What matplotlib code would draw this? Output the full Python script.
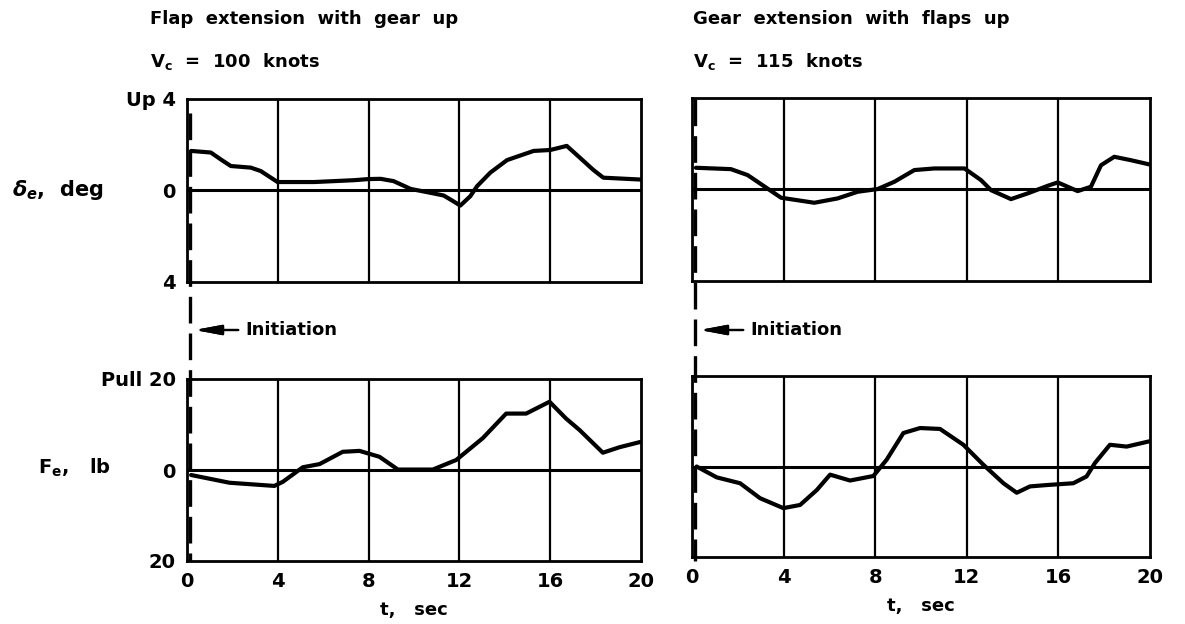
import matplotlib
matplotlib.use("Agg")
import matplotlib.pyplot as plt
from matplotlib import transforms
from matplotlib.lines import Line2D

plt.rcParams["font.family"] = "DejaVu Sans"
plt.rcParams["font.weight"] = "bold"
plt.rcParams["axes.labelweight"] = "bold"
plt.rcParams["mathtext.default"] = "regular"

# -----------------------------------
# DATA
# -----------------------------------

# Flap extension, gear up - elevator deflection (deg)
t_flap_de = [0.18, 1.05, 1.5, 1.93, 2.81, 3.25, 3.99, 5.6, 7.35, 8.0, 8.53, 9.1,
             9.85, 10.87, 11.31, 11.7, 12.04, 12.48, 12.78, 13.36, 14.1, 15.27,
             16.0, 16.73, 17.3, 17.9, 18.34, 19.96]
de_flap = [1.73, 1.66, 1.35, 1.07, 1.0, 0.85, 0.37, 0.37, 0.45, 0.5, 0.51, 0.41,
           0.07, -0.13, -0.22, -0.45, -0.66, -0.25, 0.19, 0.78, 1.33, 1.73,
           1.77, 1.95, 1.44, 0.9, 0.56, 0.48]

# Gear extension, flaps up - elevator deflection (deg)
t_gear_de = [0.17, 1.7, 2.43, 3.3, 3.89, 5.34, 6.36, 7.23, 8.11, 8.84, 9.71,
             10.58, 11.9, 12.62, 13.06, 13.93, 14.66, 15.53, 15.97, 16.84,
             17.42, 17.86, 18.44, 19.17, 20.0]
de_gear = [0.95, 0.89, 0.63, 0.04, -0.36, -0.58, -0.39, -0.1, 0.02, 0.34, 0.85,
           0.92, 0.92, 0.41, -0.03, -0.42, -0.17, 0.16, 0.31, -0.07,
           0.12, 1.06, 1.43, 1.28, 1.09]

# Flap extension, gear up - stick force (lb)
t_flap_fe = [0.18, 1.87, 3.85, 4.22, 5.1, 5.84, 6.86, 7.6, 8.48, 9.29, 10.83,
             11.86, 13.03, 14.06, 14.94, 15.97, 16.7, 17.29, 18.32, 19.05, 20.0]
fe_flap = [-1.1, -2.8, -3.5, -2.6, 0.6, 1.3, 4.0, 4.2, 2.9, 0.1, 0.1,
           2.2, 7.0, 12.4, 12.4, 15.0, 11.3, 8.8, 3.8, 5.0, 6.2]

# Gear extension, flaps up - stick force (lb)
t_gear_fe = [0.2, 1.08, 2.1, 2.97, 3.99, 4.72, 5.45, 6.03, 6.9, 7.92, 8.5,
             9.23, 9.96, 10.83, 11.85, 12.72, 13.6, 14.18, 14.76, 15.49,
             16.65, 17.23, 17.6, 18.25, 18.98, 20.0]
fe_gear = [0.0, -2.4, -3.7, -7.0, -9.2, -8.5, -5.2, -1.8, -3.1, -2.1, 1.5,
           7.4, 8.5, 8.3, 4.8, 0.4, -3.7, -5.8, -4.4, -4.1,
           -3.7, -2.2, 0.8, 4.8, 4.4, 5.6]

x_ticks = [0, 4, 8, 12, 16, 20]
de_ticks = [-4, 0, 4]
de_labels = ["4", "0", "Up 4"]
fe_ticks = [-20, 0, 20]
fe_labels = ["20", "0", "Pull 20"]

# -----------------------------------
# FIGURE
# -----------------------------------

fig = plt.figure(figsize=(11.85, 6.24), dpi=100)
W, H = 1185.0, 624.0


def px_axes(x0, y0, x1, y1):
    return fig.add_axes([x0 / W, 1 - y1 / H, (x1 - x0) / W, (y1 - y0) / H])


ax_tl = px_axes(187, 99, 641, 282)
ax_tr = px_axes(692, 98, 1150, 281)
ax_bl = px_axes(187, 379, 641, 561)
ax_br = px_axes(692, 376, 1150, 557)

panels = [
    (ax_tl, t_flap_de, de_flap, 4),
    (ax_tr, t_gear_de, de_gear, 4),
    (ax_bl, t_flap_fe, fe_flap, 20),
    (ax_br, t_gear_fe, fe_gear, 20),
]

for ax, t, y, lim in panels:
    ax.set_xlim(0, 20)
    ax.set_ylim(-lim, lim)
    for s in ax.spines.values():
        s.set_linewidth(2.0)
    for g in x_ticks[1:-1]:
        ax.axvline(g, color="black", lw=1.6)
    ax.axhline(0, color="black", lw=2.2)
    ax.plot(t, y, color="black", lw=3.0, solid_capstyle="round",
            solid_joinstyle="round")
    ax.set_xticks(x_ticks)
    ax.tick_params(length=0, labelsize=14, pad=8)
    ax.set_yticks([])
    ax.set_xticklabels([])

ax_tl.set_yticks(de_ticks)
ax_tl.set_yticklabels(de_labels)
ax_bl.set_yticks(fe_ticks)
ax_bl.set_yticklabels(fe_labels)

for ax in (ax_bl, ax_br):
    ax.set_xticklabels([str(v) for v in x_ticks])
    ax.set_xlabel("t,   sec", fontsize=13, labelpad=7)

# dashed initiation lines across both panels
for ax_top, y_start in ((ax_tl, 113), (ax_tr, 99)):
    tr = transforms.blended_transform_factory(ax_top.transData, fig.transFigure)
    fig.add_artist(Line2D([0.15, 0.15], [1 - y_start / H, 1 - 561 / H],
                          transform=tr, color="black", lw=2.4,
                          linestyle=(0, (8, 3))))

# titles
fig.text(150 / W, 1 - 19 / H, "Flap  extension  with  gear  up", fontsize=13,
         va="center", ha="left")
fig.text(150 / W, 1 - 62 / H, r"V$_{c}$  =  100  knots", fontsize=13,
         va="center", ha="left")
fig.text(693 / W, 1 - 19 / H, "Gear  extension  with  flaps  up", fontsize=13,
         va="center", ha="left")
fig.text(693 / W, 1 - 62 / H, r"V$_{c}$  =  115  knots", fontsize=13,
         va="center", ha="left")

# axis labels
fig.text(12 / W, 1 - 190 / H, r"$\it{\delta}_{e}$,  deg", fontsize=15,
         va="center", ha="left")
fig.text(38 / W, 1 - 468 / H, r"F$_{e}$,   lb", fontsize=14,
         va="center", ha="left")

# initiation arrows
for x_line, x_text in ((192, 245), (697, 750)):
    fig.text(x_text / W, 1 - 330 / H, "Initiation", fontsize=13,
             va="center", ha="left")
    fig.add_artist(plt.annotate(
        "", xy=(x_line / W, 1 - 330 / H), xytext=((x_text - 4) / W, 1 - 330 / H),
        xycoords="figure fraction", textcoords="figure fraction",
        arrowprops=dict(arrowstyle="-|>,head_length=1.6,head_width=0.3",
                        color="black", lw=1.6, facecolor="dimgray")))

plt.savefig("out.png", dpi=100)
